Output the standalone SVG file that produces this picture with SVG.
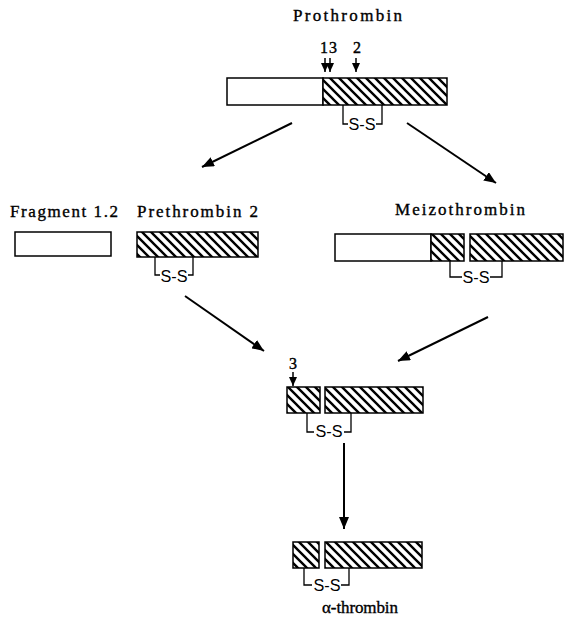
<svg xmlns="http://www.w3.org/2000/svg" width="565" height="624" viewBox="0 0 565 624">
<defs>
<pattern id="hatch" patternUnits="userSpaceOnUse" width="9" height="9">
<rect width="9" height="9" fill="#fff"/>
<path d="M-2,-2 L11,11 M-2,7 L2,11 M7,-2 L11,2" stroke="#000" stroke-width="2.4"/>
</pattern>
<marker id="ah" markerUnits="userSpaceOnUse" markerWidth="14" markerHeight="10" refX="12" refY="5" orient="auto">
<path d="M0,0 L12,5 L0,10 Z" fill="#000"/>
</marker>
<marker id="sh" markerUnits="userSpaceOnUse" markerWidth="10" markerHeight="8" refX="9" refY="4" orient="auto">
<path d="M0,0 L9,4 L0,8 Z" fill="#000"/>
</marker>
<style>
.lbl{font-family:"Liberation Serif","DejaVu Serif",serif;font-size:17px;fill:#000;stroke:#000;stroke-width:0.35}
.num{font-family:"Liberation Serif","DejaVu Serif",serif;font-size:16px;fill:#000;stroke:#000;stroke-width:0.4}
.ss{font-family:"Liberation Sans",Arial,sans-serif;font-size:16px;fill:#000;text-anchor:middle}
.w{fill:#fff;stroke:#000;stroke-width:1.5}
.h{fill:url(#hatch);stroke:#000;stroke-width:1.5}
.br{fill:none;stroke:#000;stroke-width:1.3}
.arr{stroke:#000;stroke-width:2;fill:none;marker-end:url(#ah)}
.sarr{stroke:#000;stroke-width:1.5;fill:none;marker-end:url(#sh)}
</style>
</defs>

<g id="prothrombin">
<text class="lbl" x="293" y="21" textLength="109" lengthAdjust="spacing">Prothrombin</text>
<text class="num" x="320" y="53" textLength="17" lengthAdjust="spacing">13</text>
<text class="num" x="353" y="53">2</text>
<line class="sarr" x1="325" y1="58" x2="325" y2="72"/>
<line class="sarr" x1="330" y1="58" x2="330" y2="72"/>
<line class="sarr" x1="356" y1="58" x2="356" y2="72"/>
<rect class="w" x="227" y="78" width="96" height="27"/>
<rect class="h" x="323" y="78" width="124" height="27"/>
<path class="br" d="M343,105 V124 H348 M376,124 H382 V105"/>
<text class="ss" x="362" y="130" textLength="27" lengthAdjust="spacingAndGlyphs">S-S</text>
</g>

<g id="fragment12">
<text class="lbl" x="10" y="217" textLength="108" lengthAdjust="spacing">Fragment 1.2</text>
<rect class="w" x="15" y="232" width="96" height="24"/>
</g>

<g id="prethrombin2">
<text class="lbl" x="137" y="217" textLength="121" lengthAdjust="spacing">Prethrombin 2</text>
<rect class="h" x="137" y="232" width="121" height="25"/>
<path class="br" d="M155,257 V275 H160 M188,275 H193 V257"/>
<text class="ss" x="174" y="282" textLength="27" lengthAdjust="spacingAndGlyphs">S-S</text>
</g>

<g id="meizothrombin">
<text class="lbl" x="395" y="215" textLength="130" lengthAdjust="spacing">Meizothrombin</text>
<rect class="w" x="335" y="234" width="96" height="27"/>
<rect class="h" x="431" y="234" width="33" height="27"/>
<rect class="h" x="470" y="234" width="93" height="27"/>
<path class="br" d="M450,261 V277 H462 M490,277 H502 V261"/>
<text class="ss" x="476" y="283" textLength="27" lengthAdjust="spacingAndGlyphs">S-S</text>
</g>

<g id="intermediate">
<text class="num" x="289" y="369">3</text>
<line class="sarr" x1="293" y1="372" x2="293" y2="386"/>
<rect class="h" x="287" y="387" width="33" height="26"/>
<rect class="h" x="325" y="387" width="98" height="26"/>
<path class="br" d="M307,413 V432 H314 M344,432 H351 V413"/>
<text class="ss" x="329" y="437" textLength="27" lengthAdjust="spacingAndGlyphs">S-S</text>
</g>

<g id="alpha-thrombin">
<rect class="h" x="293" y="542" width="26" height="26"/>
<rect class="h" x="325" y="542" width="97" height="26"/>
<path class="br" d="M304,568 V585 H312 M341,585 H349 V568"/>
<text class="ss" x="327" y="591" textLength="27" lengthAdjust="spacingAndGlyphs">S-S</text>
<text class="lbl" x="322" y="613" textLength="76" lengthAdjust="spacing">α-thrombin</text>
</g>

<g id="connectors">
<line class="arr" x1="292" y1="123" x2="202" y2="167"/>
<line class="arr" x1="407" y1="123" x2="496" y2="183"/>
<line class="arr" x1="185" y1="296" x2="264" y2="351"/>
<line class="arr" x1="488" y1="317" x2="398" y2="361"/>
<line class="arr" x1="344" y1="443" x2="344" y2="529"/>
</g>
</svg>
